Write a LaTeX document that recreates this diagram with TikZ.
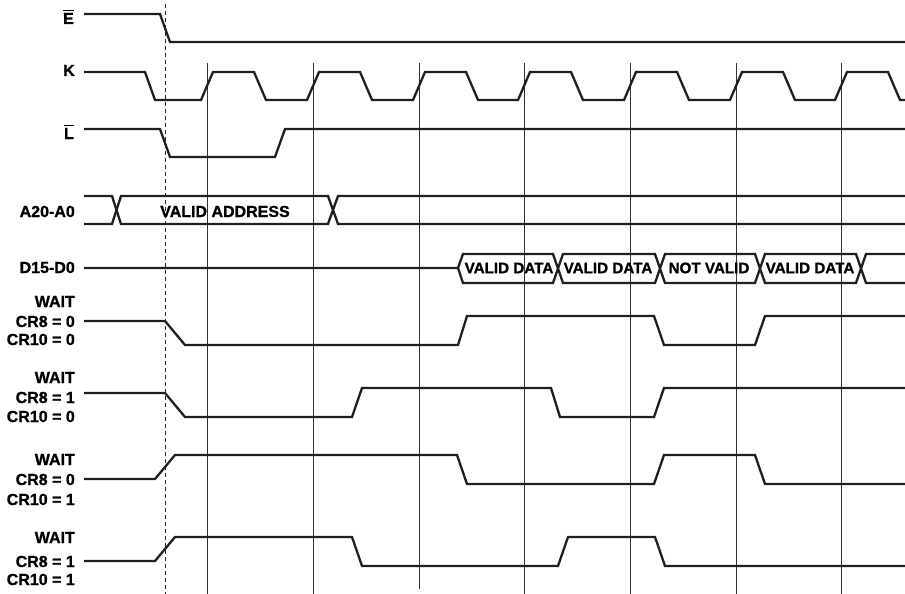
\documentclass[tikz,border=0pt]{standalone}
\usepackage{fontspec}
\setmainfont{Liberation Sans}[BoldFeatures={FakeBold=1}]
\newcommand\barred[1]{\setbox0\hbox{#1}\rlap{\rule[\dimexpr\ht0+1.8pt\relax]{\wd0}{1.3pt}}\box0}
\begin{document}
\begin{tikzpicture}[x=1pt,y=-1pt,
  wave/.style={line width=2.3pt,draw=black!88},
  grid/.style={line width=0.9pt,draw=black!80},
  guide/.style={line width=0.9pt,draw=black!85,dash pattern=on 4pt off 3pt},
  sig/.style={anchor=base east,inner sep=0pt,font=\fontsize{16}{19}\selectfont\bfseries},
  bus/.style={inner sep=0pt,font=\fontsize{15.2}{18}\selectfont\bfseries}]
\useasboundingbox (0,0) rectangle (905,594);
% guide and grid lines
\draw[guide] (165,4) -- (165,594);
\foreach \x/\b in {207/594,313/594,419/589,524/594,630/594,736/594,841/594}
  \draw[grid] (\x,63) -- (\x,\b);
% labels
\node[sig] (lE) at (74,24) {\barred{E}};
\node[sig] (lK) at (75,76) {K};
\node[sig] (lL) at (74,139) {\barred{L}};
\node[sig] (lA) at (75,217) {A20-A0};
\node[sig] (lD) at (75,273) {D15-D0};
\node[sig] (w1a) at (75,307) {WAIT};
\node[sig] (w1b) at (75,327) {CR8 = 0};
\node[sig] (w1c) at (75,345) {CR10 = 0};
\node[sig] (w2a) at (75,383) {WAIT};
\node[sig] (w2b) at (75,403) {CR8 = 1};
\node[sig] (w2c) at (75,422) {CR10 = 0};
\node[sig] (w3a) at (75,465) {WAIT};
\node[sig] (w3b) at (75,485) {CR8 = 0};
\node[sig] (w3c) at (75,505) {CR10 = 1};
\node[sig] (w4a) at (75,543) {WAIT};
\node[sig] (w4b) at (75,567) {CR8 = 1};
\node[sig] (w4c) at (75,585) {CR10 = 1};
% E
\draw[wave] (84,14) -- (160,14) -- (170,42) -- (905,42);
% K
\draw[wave] (84,72) -- (145,72) -- (155,100)
  \foreach \r in {201,307,413,518,624,730,835} { -- (\r,100) -- (\r+12,72) -- (\r+53,72) -- (\r+65,100) }
  -- (905,100);
% L
\draw[wave] (84,129) -- (160,129) -- (170,157) -- (275,157) -- (285,129) -- (905,129);
% Address bus
\draw[wave] (84,196) -- (112,196) -- (121,224) -- (328,224) -- (338,196) -- (905,196);
\draw[wave] (84,224) -- (112,224) -- (121,196) -- (328,196) -- (338,224) -- (905,224);
\node[bus,font=\fontsize{16}{19}\selectfont\bfseries] (va) at (225,211.5) {VALID ADDRESS};
% Data bus
\draw[wave] (84,268) -- (458,268) -- (463,254) -- (553,254) -- (563,283) -- (655,283) -- (665,254) -- (755,254) -- (765,283) -- (856,283) -- (866,254) -- (905,254);
\draw[wave] (458,268) -- (463,283) -- (553,283) -- (563,254) -- (655,254) -- (665,283) -- (755,283) -- (765,254) -- (856,254) -- (866,283) -- (905,283);
\node[bus] (d1) at (509,268) {VALID DATA};
\node[bus] (d2) at (608,268) {VALID DATA};
\node[bus] (d3) at (709,268) {NOT VALID};
\node[bus] (d4) at (810,268) {VALID DATA};
% WAIT waveforms
\draw[wave] (84,321) -- (165,321) -- (185,345) -- (458,345) -- (467,316) -- (654,316) -- (664,345) -- (755,345) -- (765,316) -- (905,316);
\draw[wave] (84,393) -- (165,393) -- (185,417) -- (352,417) -- (362,388) -- (551,388) -- (560,417) -- (654,417) -- (664,388) -- (905,388);
\draw[wave] (84,479) -- (155,479) -- (175,455) -- (457,455) -- (467,484) -- (654,484) -- (664,455) -- (755,455) -- (765,484) -- (905,484);
\draw[wave] (84,561) -- (155,561) -- (175,537) -- (352,537) -- (362,566) -- (558,566) -- (568,537) -- (655,537) -- (665,566) -- (905,566);
\end{tikzpicture}
\end{document}
